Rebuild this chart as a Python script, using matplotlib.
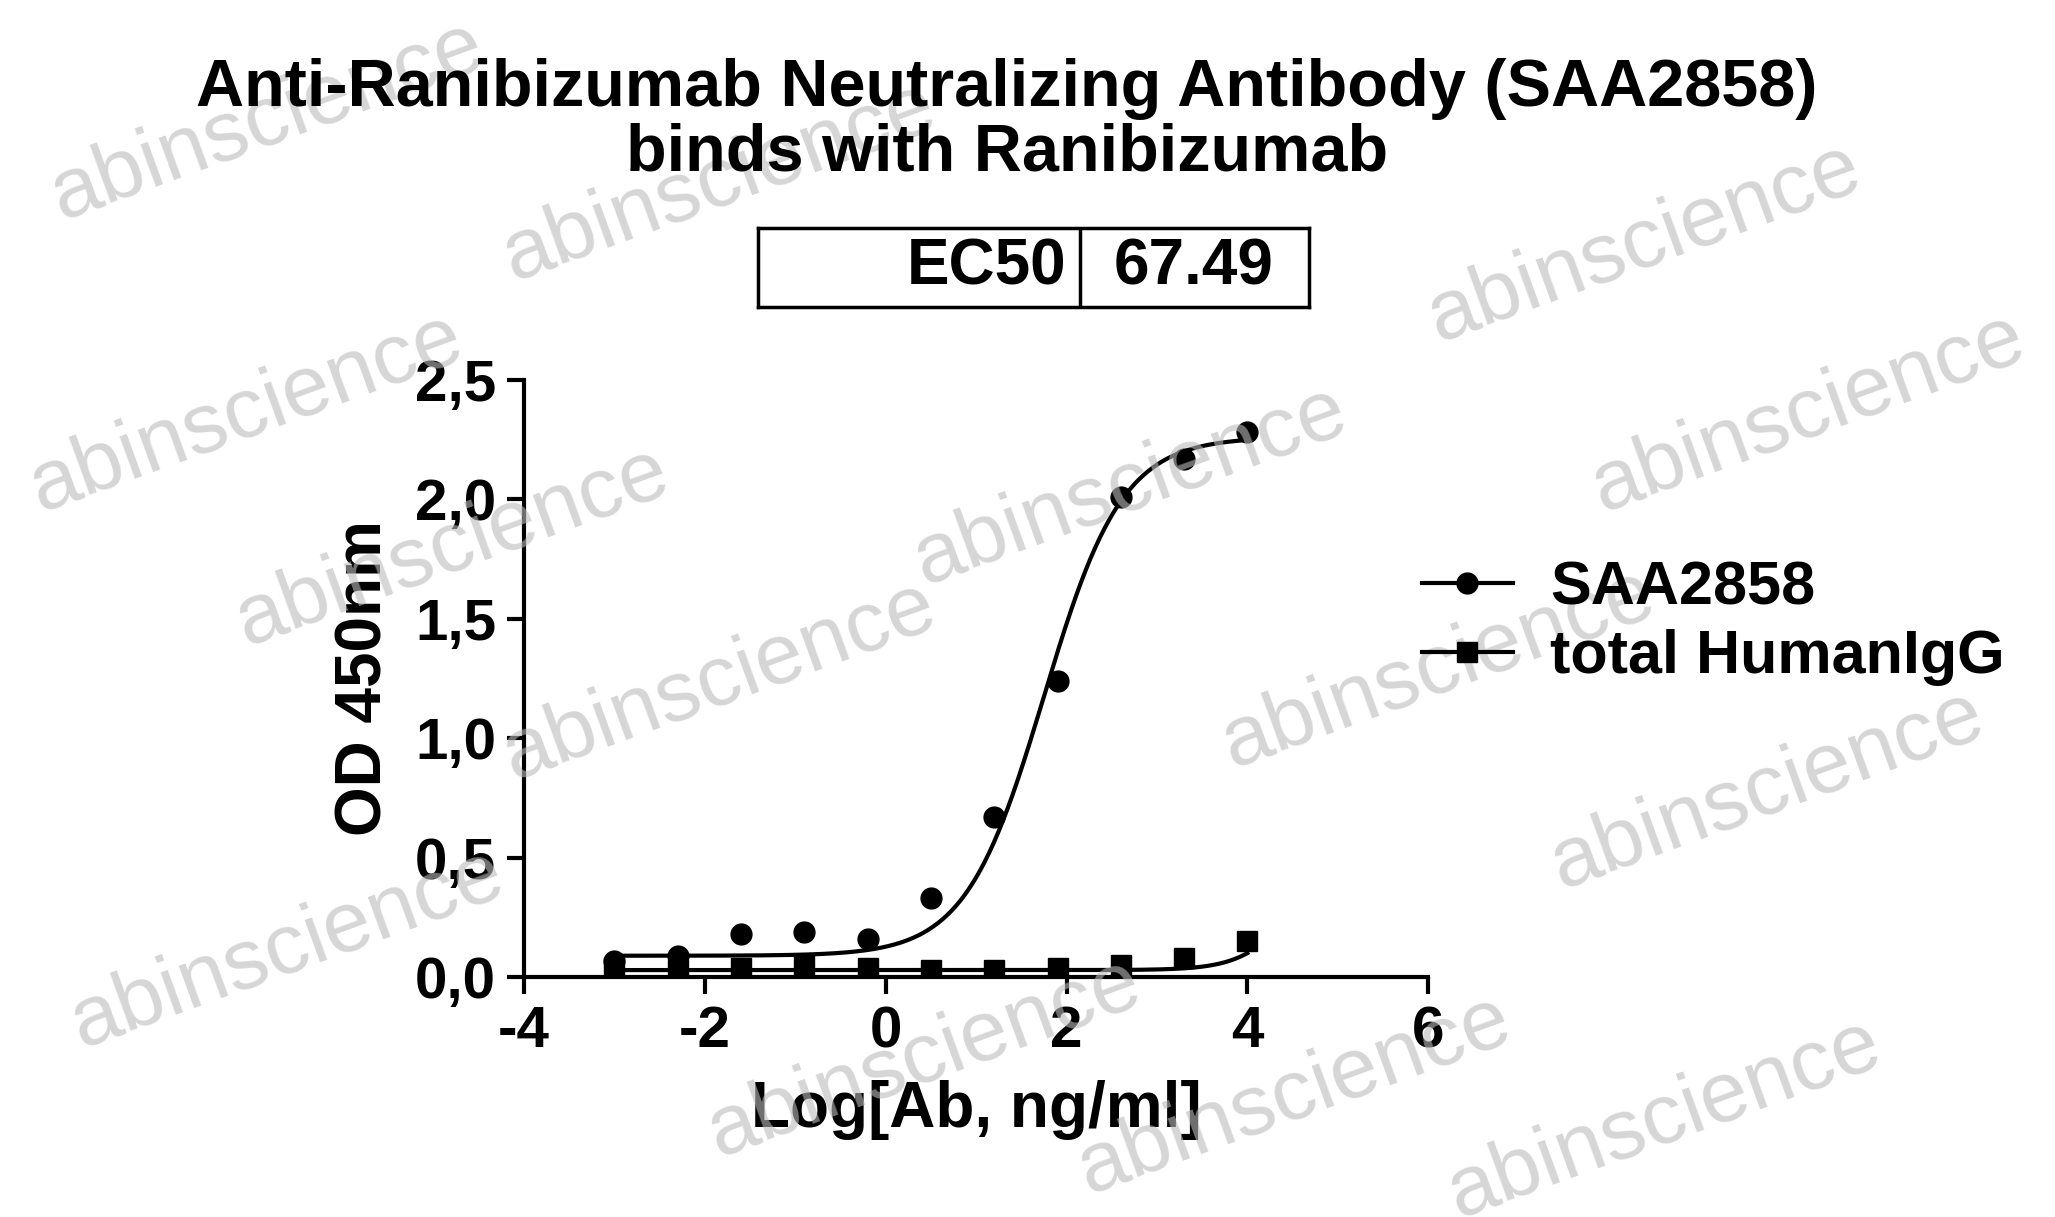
import numpy as np
import matplotlib
matplotlib.use("Agg")
import matplotlib.pyplot as plt

x_log = [-3.0, -2.3, -1.6, -0.9, -0.2, 0.5, 1.2, 1.9, 2.6, 3.3, 4.0]
saa = [0.07, 0.09, 0.18, 0.19, 0.16, 0.33, 0.67, 1.24, 2.01, 2.17, 2.28]
igg = [0.04, 0.03, 0.04, 0.05, 0.04, 0.03, 0.03, 0.04, 0.05, 0.08, 0.15]
ec50 = "67.49"
saa_fit = (0.09, 2.26, 1.75, 1.0)
igg_fit = (0.03, 0.5, 4.5, 1.5)

def fourpl(x, p):
    b, t, c, h = p
    return b + (t - b) / (1 + 10 ** ((c - x) * h))

plt.rcParams['font.family'] = ['Liberation Sans', 'DejaVu Sans']
plt.rcParams['axes.unicode_minus'] = False
fig = plt.figure(figsize=(20.55, 12.17), dpi=100)

wm = [(0.13, 0.90), (0.35, 0.85), (0.80, 0.80), (0.12, 0.66), (0.22, 0.55), (0.55, 0.60),
      (0.88, 0.66), (0.35, 0.44), (0.70, 0.45), (0.86, 0.35), (0.14, 0.22), (0.45, 0.13),
      (0.63, 0.10), (0.81, 0.08)]
for wx, wy in wm:
    fig.text(wx, wy, "abinscience", fontsize=62, color='#bbbbbb', alpha=0.6,
             rotation=20, ha='center', va='center', zorder=0)

ax = fig.add_axes([0.255, 0.197, 0.44, 0.491])
ax.patch.set_alpha(0)
xs = np.linspace(-3, 4, 400)
ax.plot(xs, fourpl(xs, saa_fit), color='black', lw=3)
ax.plot(xs, fourpl(xs, igg_fit), color='black', lw=3)
ax.plot(x_log, saa, 'o', color='black', ms=15)
ax.plot(x_log, igg, 's', color='black', ms=14)
ax.set_xlim(-4, 6)
ax.set_ylim(0, 2.5)
ax.set_xticks([-4, -2, 0, 2, 4, 6])
ax.set_yticks([0, 0.5, 1.0, 1.5, 2.0, 2.5])
ax.set_yticklabels(["0,0", "0,5", "1,0", "1,5", "2,0", "2,5"])
for s in ['top', 'right']:
    ax.spines[s].set_visible(False)
for s in ['left', 'bottom']:
    ax.spines[s].set_linewidth(3)
ax.tick_params(width=3, length=12, labelsize=42, pad=8)
for lb in ax.get_xticklabels() + ax.get_yticklabels():
    lb.set_fontweight('bold')
ax.set_xlabel("Log[Ab, ng/ml]", fontsize=46, fontweight='bold', labelpad=15)
ax.set_ylabel("OD 450nm", fontsize=46, fontweight='bold', labelpad=15)

from matplotlib.lines import Line2D
h = [Line2D([], [], color='black', lw=3, marker='o', ms=15),
     Line2D([], [], color='black', lw=3, marker='s', ms=14)]
fig.legend(h, ["SAA2858", "total HumanIgG"], loc='upper left', bbox_to_anchor=(0.665, 0.585),
           frameon=False, prop={'size': 44, 'weight': 'bold'}, handlelength=1.5,
           labelspacing=0.2, handletextpad=0.6)

fig.text(0.49, 0.90, "Anti-Ranibizumab Neutralizing Antibody (SAA2858)\nbinds with Ranibizumab",
         ha='center', va='center', fontsize=48, fontweight='bold', linespacing=1.05)
tb = fig.add_axes([0.369, 0.748, 0.268, 0.065])
tb.set_xlim(0, 1); tb.set_ylim(0, 1)
tb.set_xticks([]); tb.set_yticks([])
for s in tb.spines.values():
    s.set_linewidth(2.5)
tb.axvline(0.585, color='black', lw=2.5)
tb.text(0.56, 0.5, "EC50", ha='right', va='center', fontsize=46, fontweight='bold')
tb.text(0.79, 0.5, ec50, ha='center', va='center', fontsize=46, fontweight='bold')
tb.patch.set_alpha(0)
fig.savefig("out.png", dpi=100)
